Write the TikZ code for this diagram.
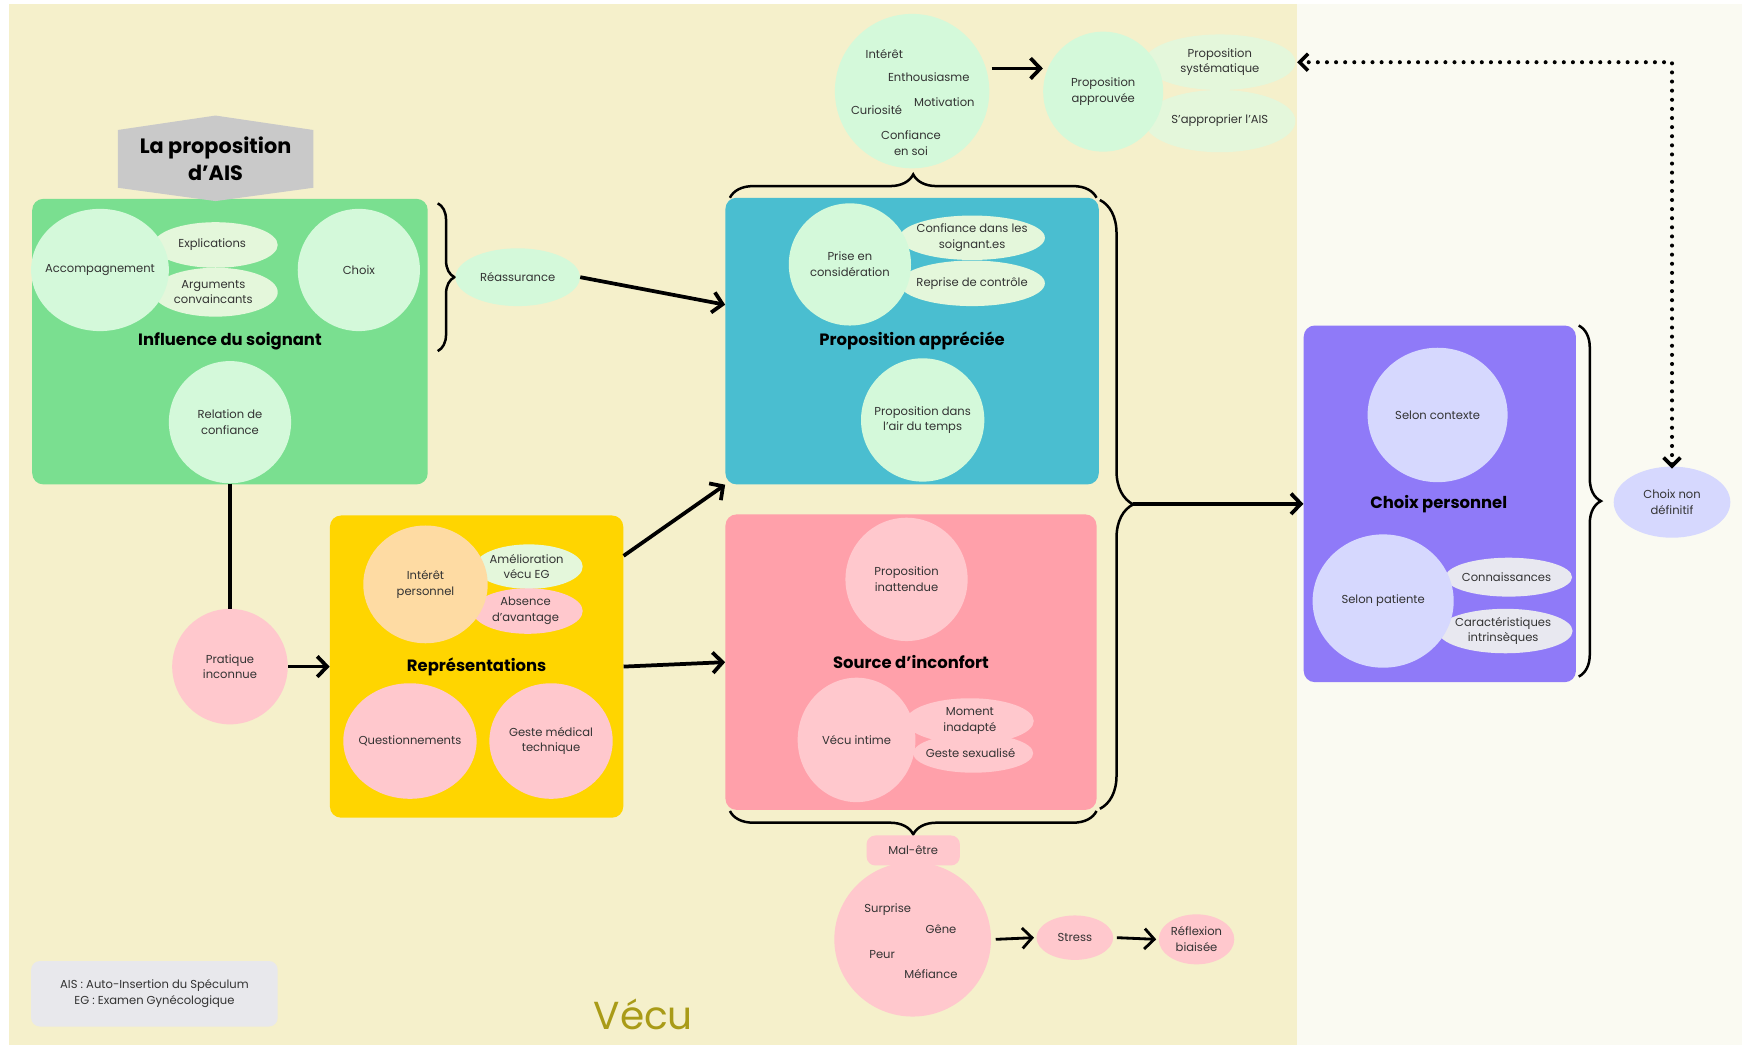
\documentclass[tikz,border=0pt]{standalone}
\usepackage{fontspec}
\setmainfont{Poppins}
\usepackage{xcolor}
\usetikzlibrary{arrows.meta,decorations.pathreplacing,shapes.geometric}

\definecolor{bgyel}{HTML}{F5F0CB}
\definecolor{bgcream}{HTML}{FAFAF2}
\definecolor{gbox}{HTML}{7ADF90}
\definecolor{lgreen}{HTML}{D4F9DA}
\definecolor{gcloud}{HTML}{E4F7DB}
\definecolor{hexgray}{HTML}{C9C9C9}
\definecolor{bbox}{HTML}{4ABED0}
\definecolor{pbox}{HTML}{FFA0AA}
\definecolor{lpink}{HTML}{FFC8CD}
\definecolor{ybox}{HTML}{FFD500}
\definecolor{peach}{HTML}{FEDBA3}
\definecolor{vbox}{HTML}{8F7AF8}
\definecolor{lav}{HTML}{D6D8FE}
\definecolor{lgray}{HTML}{E8E8F0}
\definecolor{leggray}{HTML}{E8E8EC}
\definecolor{vecucol}{HTML}{A99B17}
\definecolor{txtgray}{HTML}{333333}

\begin{document}
\begin{tikzpicture}[x=0.25mm,y=-0.25mm,
  lbl/.style={font=\fontsize{7.4}{10}\selectfont, text=txtgray, align=center},
  bub/.style={ellipse, inner xsep=-16mm, inner ysep=-8mm, lbl},
  box/.style={rounded corners=2.5mm, inner sep=0pt},
  ttl/.style={font=\bfseries\fontsize{10.5}{12}\selectfont, text=black},
  arr/.style={line width=2.4pt, -{Straight Barb[length=2.2mm,width=4.6mm]}},
  brc/.style={decorate, decoration={brace,amplitude=#1}, line width=1.6pt},
  dotline/.style={line width=2.6pt, line cap=round, dash pattern=on 0pt off 2.05mm,
    {Straight Barb[length=1.9mm,width=3.8mm,line width=2.3pt]}-{Straight Barb[length=1.9mm,width=3.8mm,line width=2.3pt]}}]

\useasboundingbox (0,0) rectangle (1568,941);
\fill[white] (0,0) rectangle (1568,941);
\fill[bgyel] (8,4) rectangle (1167,941);
\fill[bgcream] (1167,4) rectangle (1568,941);

\node[font=\fontsize{25}{28}\selectfont, text=vecucol] (vecu) at (579,913) {Vécu};
\node[box, rounded corners=2mm, fill=leggray, minimum width=55.5mm, minimum height=14.75mm, lbl] (legend) at (139,894.5)
  {AIS : Auto-Insertion du Spéculum\\EG : Examen Gynécologique};

\node[box, fill=gbox, minimum width=89mm, minimum height=64.25mm] (infl) at (207,307.5) {};
\fill[hexgray] (106,117) -- (194,104) -- (282,117) -- (282,169) -- (194,181) -- (106,169) -- cycle;
\node[font=\bfseries\fontsize{13.3}{17}\selectfont, align=center] (propais) at (194,143) {La proposition\\d’AIS};
\node[bub, fill=gcloud, minimum width=28mm, minimum height=10.25mm] (expl) at (194,220.5) {\hspace*{-1.5mm}Explications};
\node[bub, fill=gcloud, minimum width=28mm, minimum height=11mm] (argu) at (194,263) {\hspace*{-1mm}Arguments\\\hspace*{-1mm}convaincants};
\node[bub, fill=lgreen, minimum width=31mm, minimum height=27.5mm] (accomp) at (90,243) {Accompagnement};
\node[bub, fill=lgreen, minimum width=27.5mm, minimum height=27.5mm] (choixg) at (323,243) {Choix};
\node[bub, fill=lgreen, minimum width=27.5mm, minimum height=27.5mm] (relat) at (207,380) {Relation de\\confiance};
\node[ttl] (inflT) at (207,307.5) {Influence du soignant};

\draw[brc=3.75mm] (394,183) -- (394,316);
\node[bub, fill=lgreen, minimum width=28mm, minimum height=13mm] (reass) at (466,249.5) {Réassurance};

\node[box, fill=bbox, minimum width=84mm, minimum height=64.5mm] (appr) at (821,307) {};
\node[bub, fill=gcloud, minimum width=32.75mm, minimum height=10mm] (conf) at (875,214) {Confiance dans les\\soignant.es};
\node[bub, fill=gcloud, minimum width=32.75mm, minimum height=10.25mm] (repc) at (875,255) {Reprise de contrôle};
\node[bub, fill=lgreen, minimum width=27.5mm, minimum height=27.5mm] (prise) at (765,238) {Prise en\\considération};
\node[bub, fill=lgreen, minimum width=27.75mm, minimum height=27.75mm] (airt) at (830.5,378) {Proposition dans\\l’air du temps};
\node[ttl] (apprT) at (821,307) {Proposition appréciée};

\draw[brc=5.25mm] (657,178) -- (987,178);
\node[ellipse, fill=lgreen, minimum width=34.75mm, minimum height=34.75mm] (emo) at (821,82) {};
\node[lbl] (w1) at (796,49) {Intérêt};
\node[lbl] (w2) at (836,69) {Enthousiasme};
\node[lbl] (w3) at (789,99) {Curiosité};
\node[lbl] (w4) at (850,92) {Motivation};
\node[lbl] (w5) at (820,129) {Confiance\\en soi};

\node[bub, fill=gcloud, minimum width=34mm, minimum height=12.5mm] (syst) at (1098,56) {Proposition\\systématique};
\node[bub, fill=gcloud, minimum width=34mm, minimum height=14mm] (appro) at (1098,109) {S’approprier l’AIS};
\node[bub, fill=lgreen, minimum width=27mm, minimum height=27mm] (approuv) at (993,82.5) {Proposition\\approuvée};
\draw[arr] ([xshift=1.2mm]emo.17) -- (emo.17 -| approuv.west);

\node[box, fill=pbox, minimum width=83.5mm, minimum height=66.5mm] (inconf) at (820,596) {};
\node[bub, fill=lpink, minimum width=28.75mm, minimum height=10.25mm] (moment) at (873,649) {Moment\\inadapté};
\node[bub, fill=lpink, minimum width=27mm, minimum height=8.75mm] (sexual) at (876,678) {\hspace*{-1.2mm}Geste sexualisé};
\node[bub, fill=lpink, minimum width=27.5mm, minimum height=27.75mm] (inatt) at (816,521.5) {Proposition\\inattendue};
\node[bub, fill=lpink, minimum width=26.5mm, minimum height=28mm] (intime) at (771,666) {Vécu intime};
\node[ttl] (inconfT) at (820,596) {Source d’inconfort};

\draw[brc=5.25mm] (987,730) -- (657,730);
\node[box, rounded corners=2mm, fill=lpink, minimum width=21mm, minimum height=6.75mm, lbl] (malet) at (822,765.5) {Mal-être};
\node[ellipse, fill=lpink, minimum width=35.25mm, minimum height=34.75mm] (malc) at (821.5,845.5) {};
\node[lbl] (m1) at (799,819) {Surprise};
\node[lbl] (m2) at (847,836) {Gêne};
\node[lbl] (m3) at (794,859) {Peur};
\node[lbl] (m4) at (838,877) {Méfiance};
\node[bub, fill=lpink, minimum width=17.25mm, minimum height=10mm] (stress) at (967.5,844) {Stress};
\node[bub, fill=lpink, minimum width=17mm, minimum height=11.25mm] (reflex) at (1077,845.5) {Réflexion\\biaisée};
\draw[arr, line width=1.8pt] ([xshift=1mm]malc.east) -- ([xshift=-0.5mm]stress.west);
\draw[arr, line width=1.8pt] ([xshift=0.75mm]stress.east) -- ([xshift=-0.5mm]reflex.west);

\node[box, fill=ybox, minimum width=66mm, minimum height=68mm] (repr) at (429,600) {};
\node[bub, fill=gcloud, minimum width=24.25mm, minimum height=10mm] (amelio) at (476,510) {\hspace*{-1mm}Amélioration\\\hspace*{-1mm}vécu EG};
\node[bub, fill=lpink, minimum width=24.75mm, minimum height=10.25mm] (absence) at (475,550) {\hspace*{-1mm}Absence\\\hspace*{-1mm}d’avantage};
\node[bub, fill=peach, minimum width=28mm, minimum height=26.5mm] (interet) at (383,526) {Intérêt\\personnel};
\node[bub, fill=lpink, minimum width=30mm, minimum height=26mm] (questi) at (369,667) {Questionnements};
\node[bub, fill=lpink, minimum width=27.75mm, minimum height=26mm] (geste) at (496,667) {Geste médical\\technique};
\node[ttl] (reprT) at (429,600) {Représentations};

\node[bub, fill=lpink, minimum width=26mm, minimum height=26mm] (prat) at (207,600) {Pratique\\inconnue};
\draw[line width=2.4pt] (relat.south) -- (prat.north);
\draw[arr] (prat.east) -- (repr.west);
\draw[arr] (reass.east) -- (appr.169);
\draw[arr] (repr.37) -- (appr.south west);
\draw[arr] (repr.east) -- (inconf.west);

\draw[brc=7.5mm] (990,180) -- (990,728);
\coordinate (btip) at (1020,453.5);

\node[box, fill=vbox, minimum width=61.25mm, minimum height=80.25mm] (choix) at (1296,453.5) {};
\node[bub, fill=lav, minimum width=31.5mm, minimum height=30.25mm] (contexte) at (1294,373.5) {Selon contexte};
\node[bub, fill=lgray, minimum width=28.5mm, minimum height=8.75mm] (connais) at (1358,519.5) {\hspace*{-1mm}Connaissances};
\node[bub, fill=lgray, minimum width=30.25mm, minimum height=10mm] (caract) at (1355,568) {\hspace*{-1mm}Caractéristiques\\\hspace*{-1mm}intrinsèques};
\node[bub, fill=lav, minimum width=31.75mm, minimum height=30mm] (patiente) at (1245,541) {Selon patiente};
\node[ttl] (choixT) at (1295,453.5) {Choix personnel};
\draw[arr] (btip) -- (choix.west);

\draw[brc=5mm] (1421,293) -- (1421,609);
\node[bub, fill=lav, minimum width=26.25mm, minimum height=16mm] (nondef) at (1505,452) {Choix non\\définitif};
\draw[dotline] ([yshift=-0.5mm]nondef.north) |- ([xshift=0.3mm]syst.east);

\end{tikzpicture}
\end{document}
